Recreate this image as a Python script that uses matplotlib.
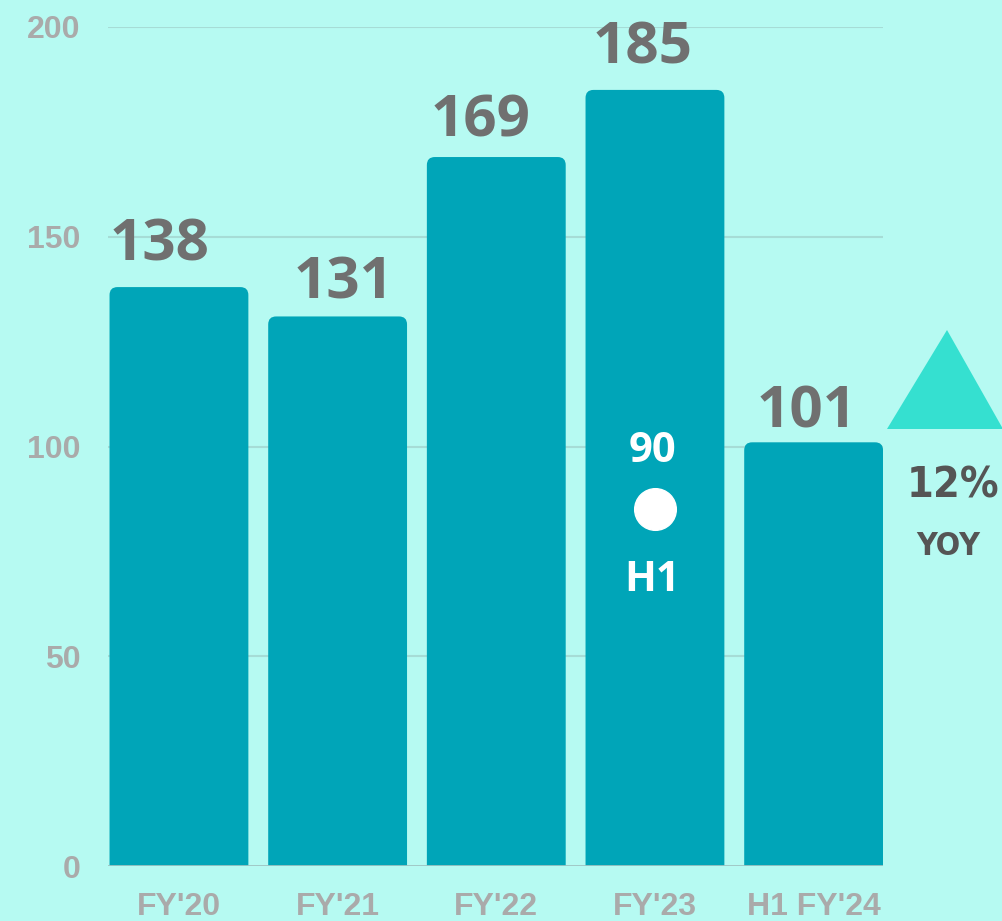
import matplotlib
matplotlib.use("Agg")
import matplotlib.pyplot as plt
from matplotlib.patches import FancyBboxPatch, Polygon

categories = ["FY'20", "FY'21", "FY'22", "FY'23", "H1 FY'24"]
values = [138, 131, 169, 185, 101]
h1_fy23 = 90
yoy_text = "12%"
yticks = [0, 50, 100, 150, 200]

# small per-label nudges (points) to follow the original label placement
label_dx = [-14, 4, -11, -9, -5]
label_dy = [19, 13, 15, 19, 11]

bg = "#B6FAF2"
bar_col = "#00A5B8"

fig = plt.figure(figsize=(10.03, 9.21), dpi=100, facecolor=bg)
ax = fig.add_axes([0.1077, 0.0597, 0.7727, 0.911], facecolor=bg)

x = list(range(len(categories)))
w = 0.875
bars = ax.bar(x, values, width=w, color=bar_col, alpha=0)  # invisible, sets scale
for b, v, dx, dy in zip(bars, values, label_dx, label_dy):
    p = FancyBboxPatch((b.get_x(), -10), w, v + 10,
                       boxstyle="round,pad=0,rounding_size=0.05",
                       mutation_aspect=38, fc=bar_col, ec="none", zorder=3)
    ax.add_patch(p)
    ax.annotate(str(v), (b.get_x() + w / 2, v), xytext=(dx, dy),
                textcoords="offset points", ha="center", va="baseline",
                fontsize=42, fontweight="bold", color="#707070",
                family="Open Sans", zorder=5, annotation_clip=False)

ax.set_xlim(-0.447, 4.4375)
ax.set_ylim(0, 200)

for y in yticks[1:]:
    ax.axhline(y, color="#A6DCD6", lw=1.5, zorder=1)
ax.axhline(0, color="#9FC4C2", lw=2, zorder=4)

for s in ax.spines.values():
    s.set_visible(False)
ax.set_xticks(x)
ax.set_xticklabels(categories, fontsize=23, fontweight="bold", color="#AAAAAA",
                   family="Liberation Sans")
ax.set_yticks(yticks)
ax.set_yticklabels([str(t) for t in yticks], fontsize=23, fontweight="bold",
                   color="#AAAAAA", family="Liberation Sans")
ax.tick_params(axis="x", length=0, pad=19)
ax.tick_params(axis="y", length=0, pad=20)

# H1 FY'23 marker
ax.plot([3], [85], "o", color="white", ms=30, zorder=6, clip_on=False)
ax.annotate(str(h1_fy23), (3, 85), xytext=(-2, 34), textcoords="offset points",
            ha="center", va="baseline", fontsize=30, fontweight="bold",
            color="white", family="Open Sans", zorder=6)
ax.annotate("H1", (3, 85), xytext=(-2, -59), textcoords="offset points",
            ha="center", va="baseline", fontsize=30, fontweight="bold",
            color="white", family="Open Sans", zorder=6)

# YOY triangle
tri = Polygon([(887 / 1003, 1 - 429 / 921), (947 / 1003, 1 - 330 / 921),
               (1003 / 1003, 1 - 429 / 921)], closed=True,
              transform=fig.transFigure, fc="#35E0D0", ec="none")
fig.patches.append(tri)
fig.text(953 / 1003, 1 - 497 / 921, yoy_text, ha="center", va="baseline",
         fontsize=31, fontweight="bold", fontstretch="condensed",
         color="#555555", family="DejaVu Sans")
fig.text(948 / 1003, 1 - 555 / 921, "YOY", ha="center", va="baseline",
         fontsize=23, fontweight="bold", fontstretch="condensed",
         color="#555555", family="DejaVu Sans")

fig.savefig("out.png", dpi=100, facecolor=bg)
